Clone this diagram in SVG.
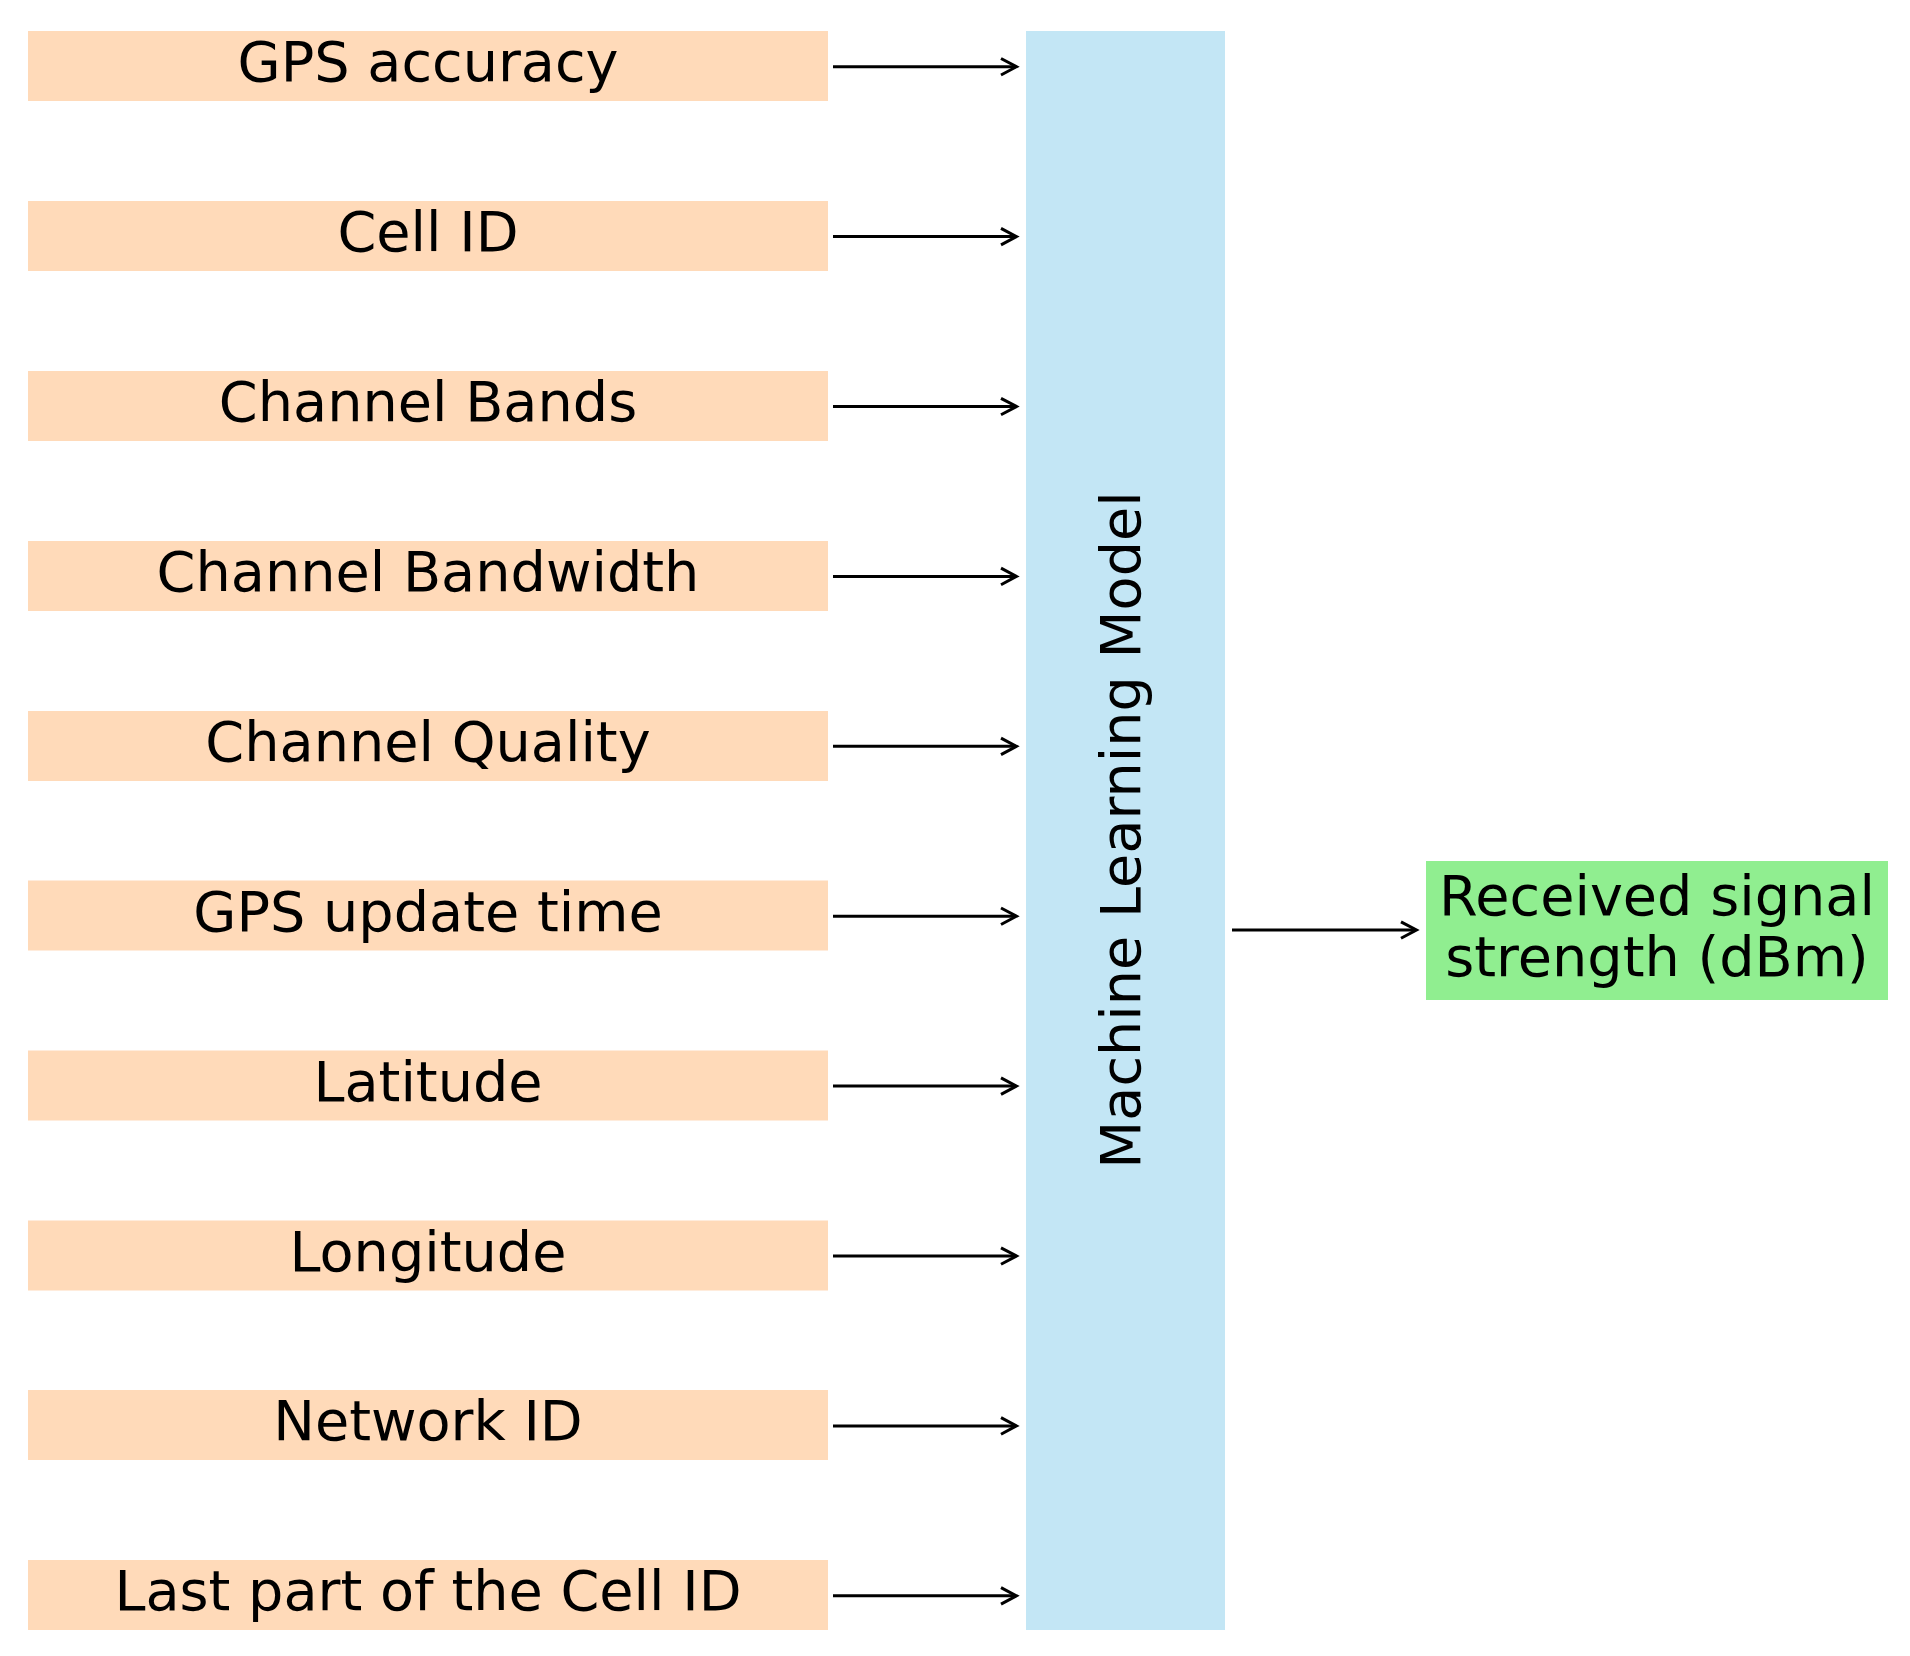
<svg xmlns="http://www.w3.org/2000/svg" width="1910" height="1656" viewBox="0 0 1910 1656">
<style>
.in{fill:#ffdab9}
.t{font-family:"DejaVu Sans",sans-serif;font-size:55.7px;fill:#000;text-anchor:middle}
.c line{stroke:#000;stroke-width:3}
.c polyline{fill:none;stroke:#000;stroke-width:3}
</style>
<rect width="1910" height="1656" fill="#fff"/>
<g id="n0"><rect class="in" x="28" y="31" width="800" height="70"/><text class="t" x="428" y="81">GPS accuracy</text></g>
<g id="n1"><rect class="in" x="28" y="201" width="800" height="70"/><text class="t" x="428" y="251">Cell ID</text></g>
<g id="n2"><rect class="in" x="28" y="371" width="800" height="70"/><text class="t" x="428" y="421">Channel Bands</text></g>
<g id="n3"><rect class="in" x="28" y="541" width="800" height="70"/><text class="t" x="428" y="591">Channel Bandwidth</text></g>
<g id="n4"><rect class="in" x="28" y="711" width="800" height="70"/><text class="t" x="428" y="761">Channel Quality</text></g>
<g id="n5"><rect class="in" x="28" y="880.5" width="800" height="70"/><text class="t" x="428" y="930.5">GPS update time</text></g>
<g id="n6"><rect class="in" x="28" y="1050.5" width="800" height="70"/><text class="t" x="428" y="1100.5">Latitude</text></g>
<g id="n7"><rect class="in" x="28" y="1220.5" width="800" height="70"/><text class="t" x="428" y="1270.5">Longitude</text></g>
<g id="n8"><rect class="in" x="28" y="1390" width="800" height="70"/><text class="t" x="428" y="1440">Network ID</text></g>
<g id="n9"><rect class="in" x="28" y="1560" width="800" height="70"/><text class="t" x="428" y="1610">Last part of the Cell ID</text></g>
<g id="model"><rect x="1026" y="31" width="199" height="1599" fill="#c3e6f5"/><text class="t" transform="translate(1140,830) rotate(-90)">Machine Learning Model</text></g>
<g id="out"><rect x="1426" y="861" width="462" height="139" fill="#90ee90"/><text class="t" x="1657" y="915">Received signal</text><text class="t" x="1657" y="976">strength (dBm)</text></g>
<g class="c" id="connectors">
<line x1="833" y1="66.7" x2="1016" y2="66.7"/><polyline points="1001,58.5 1016.5,66.7 1001,75"/>
<line x1="833" y1="236.6" x2="1016" y2="236.6"/><polyline points="1001,228.4 1016.5,236.6 1001,244.9"/>
<line x1="833" y1="406.5" x2="1016" y2="406.5"/><polyline points="1001,398.3 1016.5,406.5 1001,414.8"/>
<line x1="833" y1="576.4" x2="1016" y2="576.4"/><polyline points="1001,568.2 1016.5,576.4 1001,584.7"/>
<line x1="833" y1="746.3" x2="1016" y2="746.3"/><polyline points="1001,738.1 1016.5,746.3 1001,754.6"/>
<line x1="833" y1="916.2" x2="1016" y2="916.2"/><polyline points="1001,908 1016.5,916.2 1001,924.5"/>
<line x1="833" y1="1086.1" x2="1016" y2="1086.1"/><polyline points="1001,1077.9 1016.5,1086.1 1001,1094.4"/>
<line x1="833" y1="1256" x2="1016" y2="1256"/><polyline points="1001,1247.8 1016.5,1256 1001,1264.3"/>
<line x1="833" y1="1425.9" x2="1016" y2="1425.9"/><polyline points="1001,1417.7 1016.5,1425.9 1001,1434.2"/>
<line x1="833" y1="1595.8" x2="1016" y2="1595.8"/><polyline points="1001,1587.6 1016.5,1595.8 1001,1604.1"/>
<line x1="1232" y1="930" x2="1416" y2="930"/><polyline points="1401,921.8 1416.5,930 1401,938.3"/>
</g>
</svg>
